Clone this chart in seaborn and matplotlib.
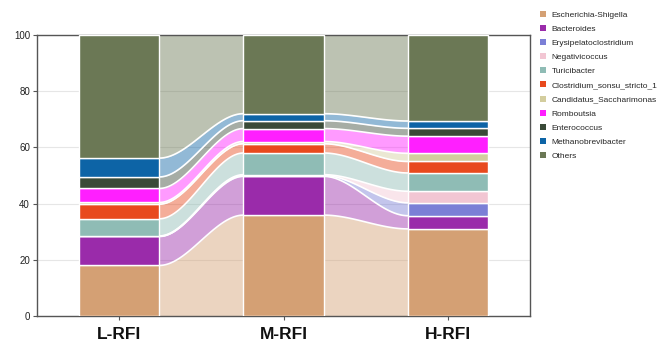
import numpy as np
import pandas as pd
import matplotlib
matplotlib.use("Agg")
import matplotlib.pyplot as plt
import matplotlib.patches as mpatches
import seaborn as sns

# Relative abundance (%) of the top genera in each RFI group
groups = ["L-RFI", "M-RFI", "H-RFI"]
genera = [
    "Escherichia-Shigella",
    "Bacteroides",
    "Erysipelatoclostridium",
    "Negativicoccus",
    "Turicibacter",
    "Clostridium_sonsu_stricto_1",
    "Candidatus_Saccharimonas",
    "Romboutsia",
    "Enterococcus",
    "Methanobrevibacter",
    "Others",
]
escherichia = [18.0, 35.9, 31.0]
bacteroides = [10.3, 13.8, 4.7]
erysipelatoclostridium = [0.1, 0.3, 4.6]
negativicoccus = [0.1, 0.3, 4.1]
turicibacter = [6.1, 7.7, 6.5]
clostridium = [5.2, 3.3, 4.1]
candidatus = [0.6, 0.8, 2.9]
romboutsia = [5.0, 4.6, 6.1]
enterococcus = [4.1, 2.8, 2.8]
methanobrevibacter = [6.7, 2.5, 2.6]
others = [43.8, 28.0, 30.6]

colors = [
    "#D4A074", "#9A2BAA", "#7B7FD6", "#F2C6D3", "#8FBCB5", "#E8491D",
    "#D3CD9E", "#FF1FFF", "#3A4A38", "#0D64A6", "#6B7855",
]

abund = np.array([
    escherichia, bacteroides, erysipelatoclostridium, negativicoccus,
    turicibacter, clostridium, candidatus, romboutsia, enterococcus,
    methanobrevibacter, others,
])
bottoms = np.vstack([np.zeros(len(groups)), np.cumsum(abund, axis=0)[:-1]])
tops = bottoms + abund

sns.set_theme(style="white")
plt.rcParams["font.family"] = ["Liberation Sans", "DejaVu Sans"]

fig = plt.figure(figsize=(6.59, 3.47), dpi=100)
ax = fig.add_axes([0.0561, 0.0893, 0.7485, 0.8098])

ax.yaxis.grid(True, color="#e6e6e6", lw=0.8, zorder=0)
ax.set_axisbelow(True)

bar_width = 0.49

# Stacked bars, one layer per genus
for k, name in enumerate(genera):
    df = pd.DataFrame({"group": groups, "abundance": abund[k]})
    sns.barplot(data=df, x="group", y="abundance", order=groups,
                bottom=bottoms[k], color=colors[k], saturation=1,
                width=bar_width, edgecolor="white", linewidth=1.0,
                errorbar=None, ax=ax, zorder=3)

# Smooth alluvial bands linking each genus between neighbouring groups
t = np.linspace(0, 1, 120)
s = t * t * (3 - 2 * t)
x_pos = np.arange(len(groups))
for i in range(len(groups) - 1):
    x0 = x_pos[i] + bar_width / 2
    x1 = x_pos[i + 1] - bar_width / 2
    xs = x0 + (x1 - x0) * t
    for k in range(len(genera)):
        lo = bottoms[k, i] + (bottoms[k, i + 1] - bottoms[k, i]) * s
        hi = tops[k, i] + (tops[k, i + 1] - tops[k, i]) * s
        ax.fill_between(xs, lo, hi, color=colors[k], alpha=0.45, lw=0, zorder=1)
        if k < len(genera) - 1:
            ax.plot(xs, hi, color="white", lw=1.2, zorder=2)

ax.set_xlim(-0.5, len(groups) - 0.5)
ax.set_ylim(0, 100)
ax.set_yticks([0, 20, 40, 60, 80, 100])
ax.set_xlabel("")
ax.set_ylabel("")
ax.set_xticks(x_pos)
ax.set_xticklabels(groups, fontsize=12.5, fontweight="bold", color="#111111")
for lab in ax.get_yticklabels():
    lab.set_fontsize(7)
    lab.set_color("#222222")

for sp in ax.spines.values():
    sp.set_visible(True)
    sp.set_color("#555555")
    sp.set_linewidth(1.0)
ax.tick_params(axis="both", which="major", direction="out", length=3,
               width=0.8, color="#555555", bottom=True, left=True)
ax.tick_params(axis="x", pad=5)
ax.tick_params(axis="y", pad=2)

handles = [mpatches.Patch(facecolor=c, edgecolor="none") for c in colors]
fig.legend(handles, genera, loc="upper left", bbox_to_anchor=(0.8196, 0.969),
           frameon=False, fontsize=6, handlelength=0.75, handleheight=0.75,
           handletextpad=0.6, labelspacing=0.74, borderpad=0, borderaxespad=0)

fig.savefig("out.png", dpi=100)
